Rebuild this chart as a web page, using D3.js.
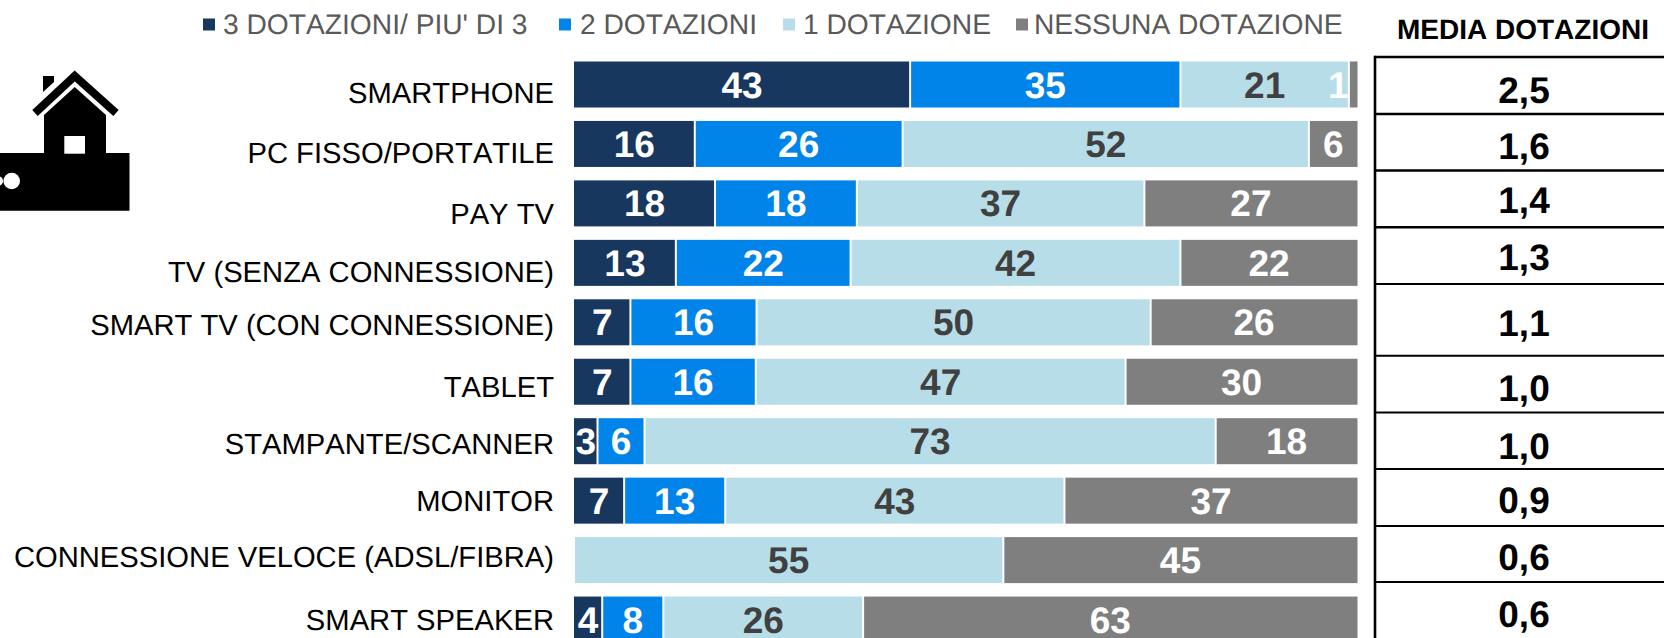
<!DOCTYPE html>
<html><head><meta charset="utf-8">
<script src="https://cdn.jsdelivr.net/npm/d3@7"></script>
<style>html,body{margin:0;padding:0;background:#fff}svg{display:block}text{font-family:"Liberation Sans",Arial,sans-serif;font-kerning:none;text-rendering:geometricPrecision}</style>
</head><body><svg id="c" width="1664" height="638"></svg>
<script>
const categories=["SMARTPHONE","PC FISSO/PORTATILE","PAY TV","TV (SENZA CONNESSIONE)","SMART TV (CON CONNESSIONE)","TABLET","STAMPANTE/SCANNER","MONITOR","CONNESSIONE VELOCE (ADSL/FIBRA)","SMART SPEAKER"];
const seriesNames=["3 DOTAZIONI/ PIU' DI 3","2 DOTAZIONI","1 DOTAZIONE","NESSUNA DOTAZIONE"];
// bar lengths as measured on the picture
const tre=[42.9,15.4,18.0,13.0,7.2,7.2,3.0,6.4,0,3.6];
const due=[34.5,26.5,18.1,22.3,16.1,16.0,6.0,12.9,0,7.8];
const una=[21.5,51.8,36.7,42.1,50.3,47.2,72.9,43.3,54.8,25.5];
const nessuna=[1.1,6.2,27.2,22.6,26.4,29.6,18.1,37.4,45.2,63.1];
// numbers printed on the bars
const treLabels=[43,16,18,13,7,7,3,7,null,4];
const dueLabels=[35,26,18,22,16,16,6,13,null,8];
const unaLabels=[21,52,37,42,50,47,73,43,55,26];
const nessunaLabels=[1,6,27,22,26,30,18,37,45,63];
const media=["2,5","1,6","1,4","1,3","1,1","1,0","1,0","0,9","0,6","0,6"];
const colors=["#17375e","#0084e9","#b7dde8","#7f7f7f"];
const labelColors=["#fff","#fff","#404040","#fff"];
const keys=["a","b","d","e"];
const labelSets=[treLabels,dueLabels,unaLabels,nessunaLabels];
const rows=categories.map((c,i)=>({c,i,a:tre[i],b:due[i],d:una[i],e:nessuna[i]}));
const svg=d3.select("#c");
const x=d3.scaleLinear().domain([0,1]).range([574,1357.5]);
const step=59.45,bh=46;
const y=d3.scaleBand().domain(categories).range([61.5,61.5+step*9+bh]).paddingInner(1-bh/step).paddingOuter(0);
const stack=d3.stack().keys(keys).offset(d3.stackOffsetExpand)(rows);
const barLayer=svg.append("g"),valueLayer=svg.append("g");
stack.forEach((s,k)=>{
  s.forEach(d=>{
    if(!d.data[keys[k]])return;
    const lab=labelSets[k][d.data.i];
    const x0=x(d[0]),x1=x(d[1]),yy=y(d.data.c);
    const l=k===0?x0:x0+1, r=k===3?x1:x1-1;
    barLayer.append("rect").attr("x",l).attr("y",yy).attr("width",Math.max(r-l,1)).attr("height",y.bandwidth()).attr("fill",colors[k]);
    valueLayer.append("text").attr("x",(x0+x1)/2+(lab===1?-15:0)).attr("y",yy+y.bandwidth()/2+13).attr("text-anchor","middle").attr("font-size",37).attr("font-weight",700).attr("fill",lab===1?"#fff":labelColors[k]).text(lab);
  });
});
const labelY=[103,163,224,282,335,397,454,511,567,630];
svg.selectAll("text.cat").data(categories).join("text").attr("class","cat").attr("x",554).attr("y",(d,i)=>labelY[i]).attr("text-anchor","end").attr("font-size",29.2).attr("fill","#000").text(d=>d);
const legX=[203,559,783,1016], legTextX=[223,580,803,1034];
seriesNames.forEach((n,i)=>{
  svg.append("rect").attr("x",legX[i]).attr("y",18.5).attr("width",12).attr("height",12).attr("fill",colors[i]);
  svg.append("text").attr("x",legTextX[i]).attr("y",33.5).attr("font-size",28.2).attr("fill","#595959").text(n);
});
svg.append("text").attr("x",1523).attr("y",39).attr("text-anchor","middle").attr("font-size",28).attr("font-weight",700).attr("fill","#000").text("MEDIA DOTAZIONI");
const lineY=[57,114,170.5,227.3,284,355.7,412.5,469,526,582];
const mediaY=[103,159,213,270,336,401,459,513,570,627];
lineY.forEach((v,i)=>svg.append("line").attr("x1",1375).attr("x2",1664).attr("y1",v).attr("y2",v).attr("stroke","#000").attr("stroke-width",i<4?2.6:2));
svg.append("line").attr("x1",1375).attr("x2",1375).attr("y1",55.7).attr("y2",638).attr("stroke","#000").attr("stroke-width",2.6);
media.forEach((m,i)=>svg.append("text").attr("x",1524).attr("y",mediaY[i]).attr("text-anchor","middle").attr("font-size",37).attr("font-weight",700).attr("fill","#000").text(m));
const house=svg.append("g");
house.append("path").attr("fill","#000").attr("d","M0 153H44V115L74.7 87L106 115V153H129.5V210.7H0Z");
house.append("path").attr("fill","#000").attr("d","M43 76H54V82L43 92Z");
house.append("path").attr("fill","none").attr("stroke","#000").attr("stroke-width",8).attr("d","M35 113L74.7 76L116 113");
house.append("rect").attr("x",64.3).attr("y",136).attr("width",20.7).attr("height",17.7).attr("fill","#fff");
house.append("circle").attr("cx",11.7).attr("cy",181).attr("r",8.3).attr("fill","#fff");
house.append("circle").attr("cx",-2).attr("cy",181).attr("r",5).attr("fill","#fff");
</script></body></html>
